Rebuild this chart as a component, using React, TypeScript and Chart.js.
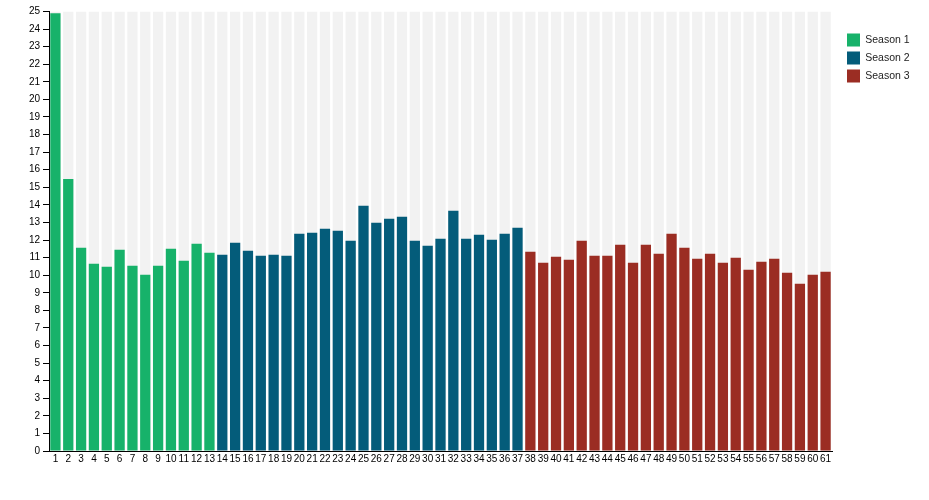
import React, { useEffect, useRef } from "react";
import { Chart, registerables } from "chart.js";

Chart.register(...registerables);

const episodes: string[] = Array.from({ length: 61 }, (_, i) => String(i + 1));

const season1: number[] = [24.9, 15.47, 11.56, 10.65, 10.48, 11.45, 10.54, 10.02, 10.54, 11.5, 10.82, 11.79, 11.28];
const season2: number[] = [
  11.16, 11.85, 11.39, 11.1, 11.16, 11.1, 12.36, 12.41, 12.64, 12.53, 11.96, 13.95,
  12.98, 13.21, 13.33, 11.96, 11.67, 12.07, 13.67, 12.07, 12.3, 12.02, 12.36, 12.7,
];
const season3: number[] = [
  11.33, 10.71, 11.05, 10.88, 11.96, 11.1, 11.1, 11.73, 10.71, 11.73, 11.22, 12.36,
  11.56, 10.93, 11.22, 10.71, 10.99, 10.31, 10.76, 10.93, 10.14, 9.51, 10.02, 10.19,
];
const yMax = 25;

const seasonNames = ["Season 1", "Season 2", "Season 3"];
const seasonColors = ["#17b26a", "#045c7a", "#9b2d23"];
const backColor = "#f2f2f2";

function pad(values: number[], offset: number): (number | null)[] {
  return episodes.map((_, i) =>
    i >= offset && i < offset + values.length ? values[i - offset] : null
  );
}

const legendPlacement = {
  id: "legendPlacement",
  beforeLayout(chart: any) {
    const lg = chart.legend;
    if (lg && !lg.__patched) {
      const orig = lg.fit.bind(lg);
      lg.fit = function () {
        orig();
        this.width = 97;
      };
      lg.__patched = true;
    }
  },
  afterLayout(chart: any) {
    const lg = chart.legend;
    if (lg) {
      lg.left += 10;
      lg.right += 10;
      lg.top += 17;
      lg.bottom += 17;
    }
  },
};

export default function App() {
  const ref = useRef<HTMLCanvasElement | null>(null);

  useEffect(() => {
    if (!ref.current) return;
    const family = "'Liberation Sans', Arial, sans-serif";
    const font = { family, size: 10 };
    const seasons = [season1, season2, season3];
    let offset = 0;
    const seasonSets = seasons.map((vals, k) => {
      const ds = {
        label: seasonNames[k],
        data: pad(vals, offset),
        backgroundColor: seasonColors[k],
        barPercentage: 0.8,
        categoryPercentage: 1,
        order: 1,
      };
      offset += vals.length;
      return ds;
    });
    const chart = new Chart(ref.current, {
      type: "bar",
      data: {
        labels: episodes,
        datasets: [
          ...seasonSets,
          {
            label: "bg",
            data: episodes.map(() => yMax),
            backgroundColor: backColor,
            barPercentage: 0.8,
            categoryPercentage: 1,
            order: 2,
          },
        ],
      },
      plugins: [legendPlacement],
      options: {
        animation: false,
        responsive: true,
        maintainAspectRatio: false,
        layout: { padding: { left: 0, right: 0, top: 11.5, bottom: 33 } },
        plugins: {
          tooltip: { enabled: false },
          legend: {
            position: "right",
            align: "start",
            labels: {
              boxWidth: 13,
              boxHeight: 13,
              padding: 5,
              color: "#222",
              font: { family, size: 10.5 },
              filter: (item: any) => item.text !== "bg",
            },
          },
        },
        scales: {
          x: {
            stacked: true,
            grid: { display: false, drawTicks: false },
            border: { display: true, color: "#000", width: 1 },
            ticks: {
              autoSkip: false,
              maxRotation: 0,
              minRotation: 0,
              color: "#000",
              font,
              padding: 2,
            },
          },
          y: {
            stacked: false,
            min: 0,
            max: yMax,
            grid: { drawOnChartArea: false, drawTicks: true, tickLength: 6, color: "#000" },
            border: { display: true, color: "#000", width: 1 },
            ticks: { stepSize: 1, color: "#000", font, padding: 3 },
            afterFit: (s: any) => {
              s.width = 49;
            },
          },
        },
      },
    });
    return () => chart.destroy();
  }, []);

  return (
    <div style={{ position: "absolute", left: 0, top: 0, width: 929, height: 500 }}>
      <canvas ref={ref} />
    </div>
  );
}
